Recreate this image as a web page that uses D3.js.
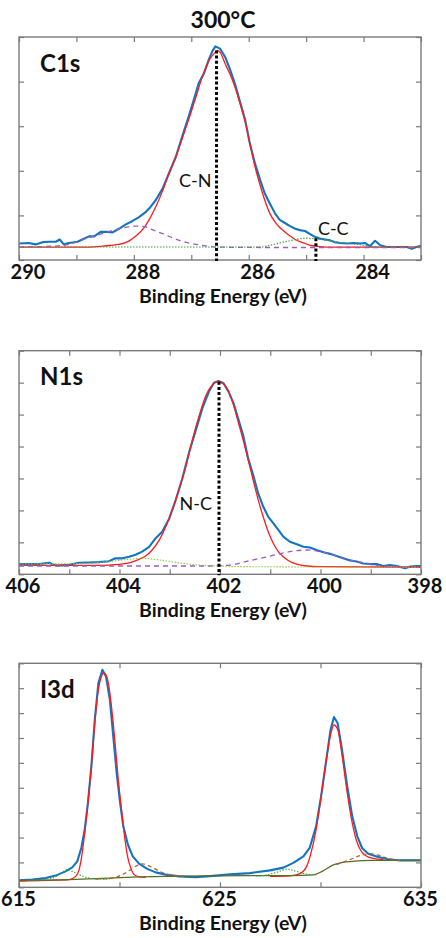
<!DOCTYPE html>
<html><head><meta charset="utf-8">
<script src="https://cdn.jsdelivr.net/npm/d3@7"></script>
<style>
html,body{margin:0;padding:0;background:#fff;}
svg{display:block;}
text{font-family:Lato,"Open Sans","DejaVu Sans",sans-serif;}
</style></head><body>
<svg id="chart" width="446" height="938"></svg>
<script>
// ---------------- DATA ----------------
const chartTitle = "300°C";
const axisTitle = "Binding Energy (eV)";
const panelNames = ["C1s", "N1s", "I3d"];

// C1s
const c1sTicks = [283, 284, 285, 286, 287, 288, 289, 290];
const c1sTickLabels = [290, 288, 286, 284];
const c1sMeasured = [[290.00,0.37],[289.83,0.38],[289.71,0.35],[289.59,0.40],[289.48,0.41],[289.36,0.41],[289.29,0.46],[289.22,0.35],[289.13,0.38],[288.98,0.41],[288.90,0.46],[288.78,0.53],[288.69,0.53],[288.58,0.63],[288.46,0.63],[288.37,0.62],[288.26,0.70],[288.14,0.80],[288.03,0.87],[287.91,0.96],[287.79,1.08],[287.71,1.19],[287.62,1.34],[287.50,1.60],[287.39,1.94],[287.27,2.31],[287.16,2.76],[287.04,3.24],[286.95,3.62],[286.87,3.97],[286.78,4.18],[286.69,4.51],[286.63,4.69],[286.58,4.79],[286.50,4.74],[286.41,4.55],[286.33,4.29],[286.24,3.95],[286.15,3.54],[286.06,3.13],[285.98,2.61],[285.89,2.16],[285.80,1.79],[285.72,1.49],[285.63,1.26],[285.54,1.04],[285.46,0.90],[285.37,0.83],[285.28,0.76],[285.19,0.70],[285.11,0.67],[285.02,0.65],[284.93,0.58],[284.85,0.52],[284.76,0.48],[284.67,0.46],[284.58,0.44],[284.50,0.40],[284.41,0.38],[284.29,0.37],[284.18,0.38],[284.06,0.37],[283.97,0.38],[283.89,0.31],[283.80,0.43],[283.71,0.33],[283.60,0.29],[283.48,0.29],[283.37,0.29],[283.25,0.29],[283.16,0.25],[283.08,0.29],[283.00,0.32]];
const c1sCN = [[290.00,0.29],[288.80,0.29],[288.55,0.31],[288.40,0.33],[288.26,0.35],[288.08,0.43],[287.97,0.53],[287.85,0.68],[287.74,0.89],[287.62,1.19],[287.50,1.55],[287.39,1.94],[287.27,2.31],[287.16,2.72],[287.04,3.17],[286.92,3.65],[286.81,4.10],[286.69,4.48],[286.58,4.66],[286.55,4.70],[286.50,4.66],[286.41,4.40],[286.33,4.18],[286.24,3.88],[286.15,3.51],[286.06,3.09],[285.98,2.61],[285.89,2.09],[285.80,1.67],[285.72,1.34],[285.63,1.04],[285.54,0.85],[285.46,0.73],[285.37,0.63],[285.28,0.54],[285.19,0.46],[285.11,0.41],[285.02,0.37],[284.93,0.33],[284.82,0.31],[284.64,0.29],[283.00,0.29]];
const c1sHigh = [[290.00,0.29],[289.42,0.31],[289.13,0.35],[288.84,0.48],[288.55,0.59],[288.26,0.70],[287.97,0.76],[287.79,0.74],[287.68,0.68],[287.50,0.59],[287.33,0.50],[287.10,0.40],[286.81,0.33],[286.58,0.29],[285.50,0.28],[283.00,0.28]];
const c1sCC = [[290.00,0.29],[285.80,0.29],[285.63,0.33],[285.40,0.40],[285.17,0.46],[284.99,0.49],[284.82,0.47],[284.58,0.43],[284.35,0.38],[284.12,0.35],[283.89,0.31],[283.66,0.29],[283.00,0.29]];
const c1sMarkers = [{label:"C-N", pos:286.56, top:4.70}, {label:"C-C", pos:284.83, top:0.49}];

// N1s
const n1sTicks = [398, 399, 400, 401, 402, 403, 404, 405, 406];
const n1sTickLabels = [406, 404, 402, 400, 398];
const n1sMeasured = [[406.00,0.32],[405.80,0.32],[405.60,0.32],[405.40,0.36],[405.27,0.28],[405.14,0.28],[405.00,0.30],[404.81,0.36],[404.61,0.37],[404.41,0.38],[404.21,0.41],[404.08,0.50],[403.94,0.50],[403.81,0.55],[403.68,0.61],[403.55,0.71],[403.41,0.86],[403.28,1.13],[403.15,1.33],[403.01,1.75],[402.88,2.33],[402.75,3.00],[402.62,3.79],[402.48,4.52],[402.35,5.20],[402.22,5.72],[402.12,6.00],[402.03,6.05],[401.93,5.98],[401.83,5.72],[401.73,5.35],[401.64,4.88],[401.54,4.36],[401.44,3.63],[401.34,3.11],[401.24,2.53],[401.14,2.12],[401.04,1.80],[400.94,1.60],[400.84,1.39],[400.74,1.18],[400.61,1.02],[400.47,0.94],[400.34,0.86],[400.21,0.84],[400.08,0.76],[399.94,0.69],[399.81,0.64],[399.68,0.57],[399.55,0.50],[399.41,0.43],[399.28,0.40],[399.15,0.34],[399.01,0.32],[398.88,0.32],[398.75,0.26],[398.62,0.29],[398.48,0.26],[398.32,0.19],[398.22,0.24],[398.09,0.26],[398.00,0.26]];
const n1sNC = [[406.00,0.28],[404.40,0.28],[404.21,0.29],[404.01,0.31],[403.81,0.36],[403.61,0.47],[403.48,0.57],[403.35,0.76],[403.21,1.07],[403.08,1.49],[402.95,2.01],[402.82,2.64],[402.68,3.37],[402.55,4.21],[402.42,4.94],[402.29,5.56],[402.15,5.93],[402.05,6.03],[401.93,5.96],[401.83,5.72],[401.73,5.30],[401.64,4.78],[401.54,4.21],[401.44,3.58],[401.34,2.95],[401.24,2.33],[401.14,1.80],[401.04,1.33],[400.94,0.97],[400.84,0.71],[400.74,0.55],[400.61,0.40],[400.47,0.32],[400.27,0.26],[400.01,0.24],[398.00,0.22]];
const n1sLow = [[406.00,0.26],[402.20,0.26],[401.80,0.29],[401.40,0.43],[401.00,0.57],[400.61,0.71],[400.27,0.76],[400.01,0.71],[399.74,0.60],[399.41,0.45],[399.08,0.34],[398.75,0.26],[398.00,0.22]];
const n1sHigh = [[406.00,0.32],[404.67,0.34],[404.21,0.40],[403.81,0.47],[403.55,0.50],[403.21,0.45],[402.82,0.36],[402.42,0.29],[402.02,0.26],[401.50,0.24],[398.00,0.22]];
const n1sMarkers = [{label:"N-C", pos:402.02, top:6.03}];

// I3d
const i3dTicks = [615, 620, 625, 630, 635];
const i3dTickLabels = [615, 625, 635];
const i3dMeasured = [[615.00,0.28],[615.66,0.31],[616.33,0.37],[616.82,0.47],[617.32,0.64],[617.65,0.80],[617.90,1.04],[618.10,1.58],[618.27,2.32],[618.43,3.39],[618.60,4.86],[618.77,6.73],[618.95,8.21],[619.15,8.74],[619.33,8.47],[619.52,7.54],[619.69,6.06],[619.86,4.59],[620.03,3.39],[620.19,2.45],[620.42,1.71],[620.66,1.24],[620.97,0.95],[621.38,0.74],[621.80,0.60],[622.30,0.51],[622.96,0.44],[623.79,0.41],[624.50,0.45],[625.50,0.52],[626.49,0.57],[627.49,0.68],[628.15,0.79],[628.65,0.98],[629.15,1.24],[629.46,1.58],[629.78,2.45],[630.03,3.65],[630.29,5.13],[630.50,6.33],[630.67,6.84],[630.85,6.60],[631.07,5.53],[631.33,4.06],[631.58,2.85],[631.83,2.05],[632.07,1.58],[632.38,1.35],[632.79,1.24],[633.29,1.14],[633.95,1.08],[635.00,1.08]];
const i3dFit52 = [[615.00,0.25],[616.50,0.28],[617.49,0.31],[617.82,0.44],[617.99,0.71],[618.12,1.24],[618.27,2.18],[618.43,3.39],[618.60,4.86],[618.77,6.60],[618.95,7.94],[619.23,8.61],[619.41,8.34],[619.60,7.27],[619.78,5.80],[619.94,4.32],[620.10,3.12],[620.25,2.05],[620.40,1.24],[620.56,0.78],[620.72,0.52],[620.97,0.42],[621.30,0.40]];
const i3dFit32 = [[627.49,0.44],[628.48,0.46],[628.98,0.55],[629.31,0.84],[629.53,1.38],[629.78,2.32],[630.03,3.65],[630.29,5.13],[630.50,6.13],[630.67,6.52],[630.86,6.33],[631.08,5.26],[631.33,3.79],[631.58,2.58],[631.83,1.78],[632.07,1.40],[632.32,1.24],[632.63,1.16],[633.13,1.11]];
const i3dBackground = [[615.00,0.28],[617.49,0.31],[619.15,0.36],[620.64,0.41],[622.30,0.44],[624.50,0.46],[626.49,0.47],[628.48,0.47],[629.64,0.50],[630.10,0.65],[630.64,0.90],[631.10,1.00],[631.60,1.04],[632.50,1.08],[635.00,1.08]];
const i3dSat1 = [[618.81,0.33],[619.64,0.37],[620.14,0.51],[620.56,0.71],[620.89,0.88],[621.14,0.94],[621.63,0.80],[622.00,0.64],[622.50,0.50],[623.20,0.45]];
const i3dSat2 = [[630.80,0.91],[631.47,1.11],[631.96,1.27],[632.46,1.35],[632.96,1.27],[633.46,1.14],[633.95,1.08]];
const i3dLow1 = [[615.50,0.28],[616.00,0.29],[616.66,0.37],[617.16,0.60],[617.40,0.71],[617.65,0.64],[617.99,0.51],[618.48,0.37],[618.98,0.33],[619.50,0.33]];
const i3dLow2 = [[626.80,0.45],[627.00,0.46],[627.82,0.60],[628.32,0.73],[628.81,0.64],[629.31,0.53],[629.81,0.50]];

// ---------------- STYLES / LAYOUT ----------------
const BLUE = "#1474c4", RED = "#ff1a1a", PURPLE = "#9a5cc0", GREEN = "#3aa33a", LGREEN = "#8cc63f", BROWN = "#b0602a", OLIVE = "#5a6b22";
const measured = {color: BLUE, width: 2.1, dash: null, curve: d3.curveLinear};
const fit = {color: RED, width: 1.3, dash: null, curve: d3.curveMonotoneX};

const panels = [
  {name: panelNames[0], top: 37, bottom: 260, left: 19, right: 421, xDomain: [290, 283], yMax: 5,
   ticks: c1sTicks, labels: c1sTickLabels, labelShift: 8.5,
   series: [
     Object.assign({data: c1sMeasured}, measured),
     Object.assign({data: c1sCN}, fit),
     {data: c1sHigh, color: PURPLE, width: 1.3, dash: "5,4", curve: d3.curveMonotoneX},
     {data: c1sCC, color: GREEN, width: 1.1, dash: "1.5,1.5", curve: d3.curveMonotoneX}
   ],
   markers: c1sMarkers,
   markerLabels: [{anchor: "end", dx: -5, y: 187}, {anchor: "start", dx: 2, y: 235}]},
  {name: panelNames[1], top: 350.7, bottom: 574.3, left: 19, right: 421, xDomain: [406, 398], yMax: 7,
   ticks: n1sTicks, labels: n1sTickLabels, labelShift: 3.5,
   series: [
     Object.assign({data: n1sMeasured}, measured),
     Object.assign({data: n1sNC}, fit),
     {data: n1sLow, color: PURPLE, width: 1.3, dash: "5,4", curve: d3.curveMonotoneX},
     {data: n1sHigh, color: LGREEN, width: 1.1, dash: "1.5,1.5", curve: d3.curveMonotoneX}
   ],
   markers: n1sMarkers,
   markerLabels: [{anchor: "end", dx: -7, y: 510}]},
  {name: panelNames[2], top: 663.3, bottom: 887.3, left: 19, right: 421, xDomain: [615, 635], yMax: 9,
   ticks: i3dTicks, labels: i3dTickLabels, labelShift: -1,
   series: [
     Object.assign({data: i3dMeasured}, measured),
     Object.assign({data: i3dFit52}, fit),
     Object.assign({data: i3dFit32}, fit),
     {data: i3dBackground, color: OLIVE, width: 1.3, dash: null, curve: d3.curveMonotoneX},
     {data: i3dSat1, color: BROWN, width: 1.2, dash: "4,3", curve: d3.curveMonotoneX},
     {data: i3dSat2, color: BROWN, width: 1.2, dash: "4,3", curve: d3.curveMonotoneX},
     {data: i3dLow1, color: GREEN, width: 1.1, dash: "1.5,1.5", curve: d3.curveMonotoneX},
     {data: i3dLow2, color: GREEN, width: 1.1, dash: "1.5,1.5", curve: d3.curveMonotoneX}
   ],
   markers: [], markerLabels: []}
];

// ---------------- DRAW ----------------
const svg = d3.select("#chart");
svg.append("rect").attr("width", 446).attr("height", 938).attr("fill", "#fff");

svg.append("text").attr("x", 223).attr("y", 28).attr("text-anchor", "middle")
  .attr("font-size", 23).attr("font-weight", 700).attr("fill", "#111").text(chartTitle);

const FRAME = "#7a7a7a";

panels.forEach((p, i) => {
  const x = d3.scaleLinear().domain(p.xDomain).range([p.left, p.right]);
  const y = d3.scaleLinear().domain([0, p.yMax]).range([p.bottom, p.top]);
  const g = svg.append("g");
  const clipId = "clip" + i;
  g.append("clipPath").attr("id", clipId).append("rect")
    .attr("x", p.left).attr("y", p.top).attr("width", p.right - p.left).attr("height", p.bottom - p.top);

  const yTicks = d3.range(0, p.yMax + 1);
  const styleAxis = sel => { sel.select(".domain").remove(); sel.selectAll("line").attr("stroke", FRAME).attr("stroke-width", 1.2); };
  g.append("g").attr("transform", `translate(${p.left},0)`).call(d3.axisLeft(y).tickValues(yTicks).tickSize(-5).tickFormat("")).call(styleAxis);
  g.append("g").attr("transform", `translate(${p.right},0)`).call(d3.axisRight(y).tickValues(yTicks).tickSize(-5).tickFormat("")).call(styleAxis);
  g.append("g").attr("transform", `translate(0,${p.top})`).call(d3.axisTop(x).tickValues(p.ticks).tickSize(-5).tickFormat("")).call(styleAxis);
  g.append("g").attr("transform", `translate(0,${p.bottom})`).call(d3.axisBottom(x).tickValues(p.ticks).tickSize(-5).tickFormat("")).call(styleAxis);

  // tick labels
  const lab = g.append("g").attr("transform", `translate(${p.labelShift},${p.bottom})`)
    .call(d3.axisBottom(x).tickValues(p.labels).tickSize(0).tickPadding(0).tickFormat(d3.format("d")));
  lab.select(".domain").remove();
  lab.selectAll("text").attr("dy", null).attr("y", 19).attr("font-size", 20).attr("font-weight", 700)
    .attr("font-family", "Lato, 'Open Sans', sans-serif").attr("fill", "#111");

  g.append("text").attr("x", 223).attr("y", p.bottom + 42.5).attr("text-anchor", "middle")
    .attr("font-size", 19.5).attr("font-weight", 700).attr("fill", "#111").text(axisTitle);

  // series
  const plot = g.append("g").attr("clip-path", `url(#${clipId})`);
  p.series.forEach(s => {
    const line = d3.line().x(d => x(d[0])).y(d => y(d[1])).curve(s.curve);
    plot.append("path").datum(s.data).attr("d", line).attr("fill", "none")
      .attr("stroke", s.color).attr("stroke-width", s.width)
      .attr("stroke-dasharray", s.dash).attr("stroke-linejoin", "round");
  });

  // frame
  g.append("rect").attr("x", p.left).attr("y", p.top).attr("width", p.right - p.left).attr("height", p.bottom - p.top)
    .attr("fill", "none").attr("stroke", FRAME).attr("stroke-width", 1.4);

  // markers
  p.markers.forEach((m, k) => {
    g.append("line").attr("x1", x(m.pos)).attr("x2", x(m.pos)).attr("y1", y(m.top)).attr("y2", p.bottom + 1)
      .attr("stroke", "#000").attr("stroke-width", 3).attr("stroke-dasharray", "3,2.2");
    const L = p.markerLabels[k];
    g.append("text").attr("x", x(m.pos) + L.dx).attr("y", L.y).attr("text-anchor", L.anchor)
      .attr("font-size", 18).attr("fill", "#111").text(m.label);
  });

  // panel name
  g.append("text").attr("x", 40).attr("y", p.top + 34.5).attr("font-size", 24).attr("font-weight", 700)
    .attr("fill", "#111").text(p.name);
});
</script>
</body></html>
